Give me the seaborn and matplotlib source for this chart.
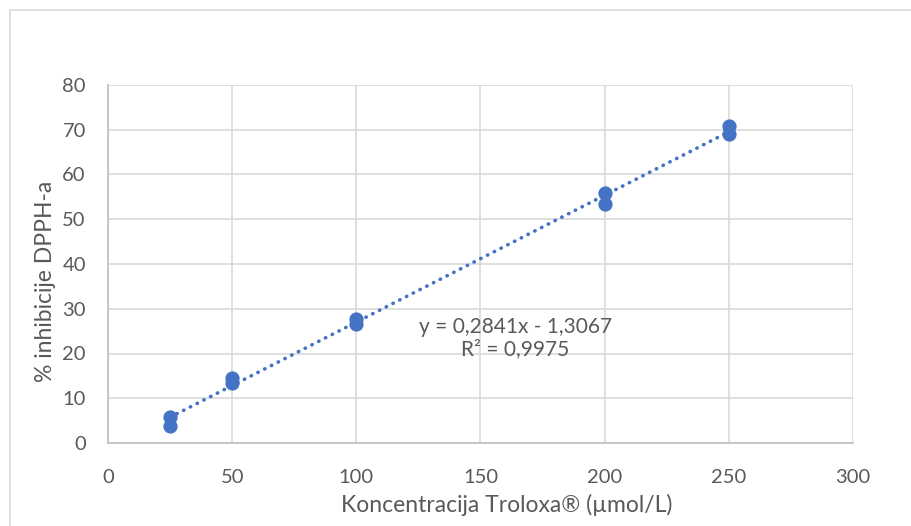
import numpy as np
import pandas as pd
import matplotlib
matplotlib.use("Agg")
import matplotlib.pyplot as plt
import matplotlib.patches as mpatches
import seaborn as sns

# Troloxa concentration (µmol/L) and measured % inhibition (duplicates)
concentration = [25, 25, 50, 50, 100, 100, 200, 200, 250, 250]
inhibition = [5.7, 3.8, 14.6, 13.5, 27.8, 26.5, 55.8, 53.4, 70.9, 69.0]
equation_text = "y = 0,2841x - 1,3067\nR² = 0,9975"

x_ticks = [0, 50, 100, 150, 200, 250, 300]
y_ticks = [0, 10, 20, 30, 40, 50, 60, 70, 80]

BLUE = "#4472C4"
TEXT = "#595959"
GRID = "#D9D9D9"

df = pd.DataFrame({"conc": concentration, "inh": inhibition})

sns.set_style("white")
plt.rcParams["font.family"] = ["Lato", "DejaVu Sans"]

fig = plt.figure(figsize=(9.12, 5.26), dpi=100)
ax = fig.add_axes([108 / 912, 1 - 443 / 526, 745 / 912, 358 / 526])

# chart border (Excel chart area)
fig.patches.append(mpatches.Rectangle((10 / 912, -0.1), 1.2, 1 - 10 / 526 + 0.1,
                                      transform=fig.transFigure, fill=False,
                                      edgecolor="#D9D9D9", linewidth=1.2))

sns.regplot(data=df, x="conc", y="inh", ax=ax, scatter=False, ci=None,
            line_kws=dict(color=BLUE, linewidth=2.6, linestyle=(0, (0.1, 2.0)),
                          dash_capstyle="round", zorder=3))
sns.scatterplot(data=df, x="conc", y="inh", ax=ax, s=105, color=BLUE,
                edgecolor=BLUE, linewidth=0, zorder=4)

ax.text(164, 23.5, equation_text, ha="center", va="center", fontsize=15,
        color=TEXT, linespacing=1.1)

ax.set_xlim(0, 300)
ax.set_ylim(0, 80)
ax.set_xticks(x_ticks)
ax.set_yticks(y_ticks)
ax.grid(True, color=GRID, linewidth=1.2)
ax.set_axisbelow(True)
for side in ["top", "right"]:
    ax.spines[side].set_visible(False)
for side in ["left", "bottom"]:
    ax.spines[side].set_color("#BFBFBF")
    ax.spines[side].set_linewidth(1.2)

ax.tick_params(axis="both", length=0, labelsize=14.5, labelcolor=TEXT)
ax.tick_params(axis="y", pad=16)
ax.tick_params(axis="x", pad=19)

ax.set_xlabel("Koncentracija Troloxa® (µmol/L)", fontsize=16.5, color=TEXT, va="center")
ax.set_ylabel("% inhibicije DPPH-a", fontsize=16.5, color=TEXT, va="center")
ax.xaxis.set_label_coords((507 - 108) / 745, (443 - 505) / 358)
ax.yaxis.set_label_coords((46 - 108) / 745, (443 - 281) / 358)

fig.savefig("out.png", dpi=100)
plt.close(fig)
